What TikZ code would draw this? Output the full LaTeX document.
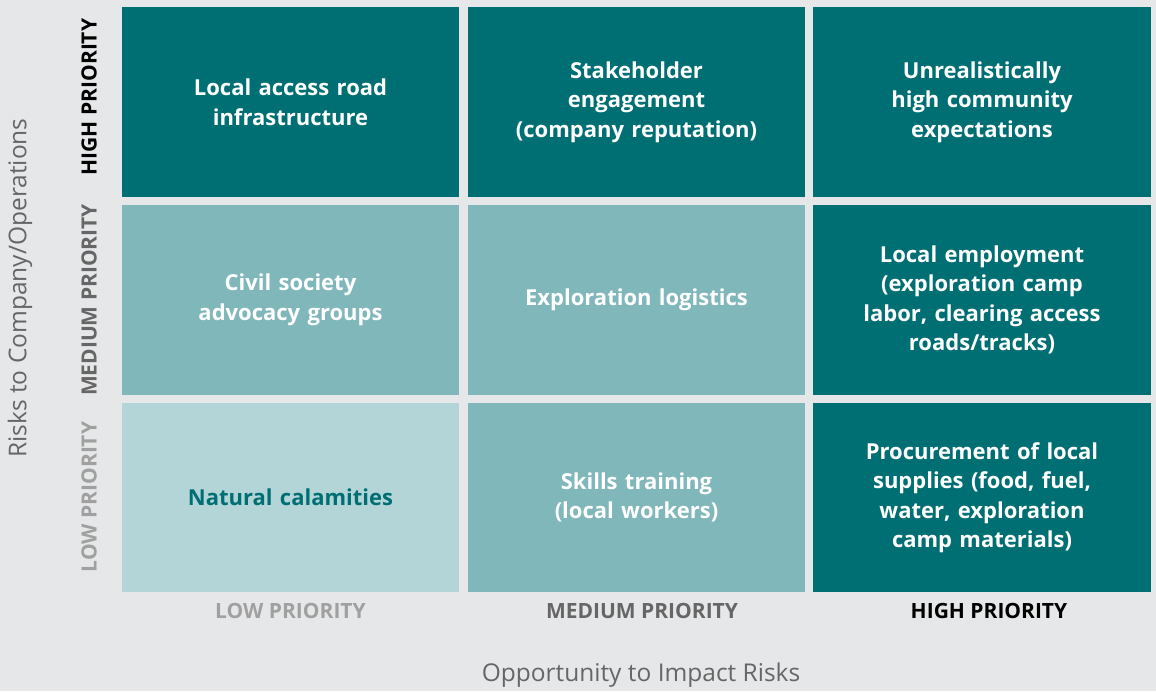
\documentclass[tikz,border=0pt]{standalone}
\usepackage{fontspec}
\setmainfont{Open Sans}
\definecolor{bg}{HTML}{E6E7E8}
\definecolor{dark}{HTML}{006F73}
\definecolor{mid}{HTML}{80B7BA}
\definecolor{light}{HTML}{B3D5D7}
\definecolor{gtxt}{HTML}{666666}
\definecolor{ltxt}{HTML}{A0A0A0}
\tikzset{
  cell/.style={inner sep=0pt, minimum width=337pt, minimum height=190pt, align=center, text width=320pt,
    font=\fontsize{22}{29.5}\selectfont\bfseries, text=white},
  axlab/.style={font=\fontsize{21}{24}\selectfont\bfseries, inner sep=0pt},
  axtitle/.style={font=\fontsize{24.5}{28}\selectfont, text=gtxt, inner sep=0pt},
}
\begin{document}
\begin{tikzpicture}[x=1pt,y=-1pt]
\fill[bg] (0,0) rectangle (1156,691);
\useasboundingbox (0,0) rectangle (1156,691);
% row 1
\node[cell, fill=dark] (c11) at (290.5,102) {Local access road\\infrastructure};
\node[cell, fill=dark] (c12) at (636.5,102) {Stakeholder\\engagement\\(company reputation)};
\node[cell, fill=dark, minimum width=338pt] (c13) at (982,102) {Unrealistically\\high community\\expectations};
% row 2
\node[cell, fill=mid] (c21) at (290.5,300) {Civil society\\advocacy groups};
\node[cell, fill=mid] (c22) at (636.5,300) {Exploration logistics};
\node[cell, fill=dark, minimum width=338pt] (c23) at (982,300) {Local employment\\(exploration camp\\labor, clearing access\\roads/tracks)};
% row 3
\node[cell, fill=light, minimum height=189pt, text=dark] (c31) at (290.5,497.5) {Natural calamities};
\node[cell, fill=mid, minimum height=189pt] (c32) at (636.5,497.5) {Skills training\\(local workers)};
\node[cell, fill=dark, minimum width=338pt, minimum height=189pt] (c33) at (982,497.5) {Procurement of local\\supplies (food, fuel,\\water, exploration\\camp materials)};
% row labels
\node[axlab, rotate=90, text=black] (rh) at (89,97) {HIGH PRIORITY};
\node[axlab, rotate=90, text=gtxt] (rm) at (89,300) {MEDIUM PRIORITY};
\node[axlab, rotate=90, text=ltxt] (rl) at (89,497) {LOW PRIORITY};
% column labels
\node[axlab, text=ltxt] (cl) at (290.5,611) {LOW PRIORITY};
\node[axlab, text=gtxt] (cm) at (642,611) {MEDIUM PRIORITY};
\node[axlab, text=black] (ch) at (989,611) {HIGH PRIORITY};
% axis titles
\node[axtitle, rotate=90] (ty) at (20,288) {Risks to Company/Operations};
\node[axtitle] (tx) at (641,675) {Opportunity to Impact Risks};
\end{tikzpicture}
\end{document}
